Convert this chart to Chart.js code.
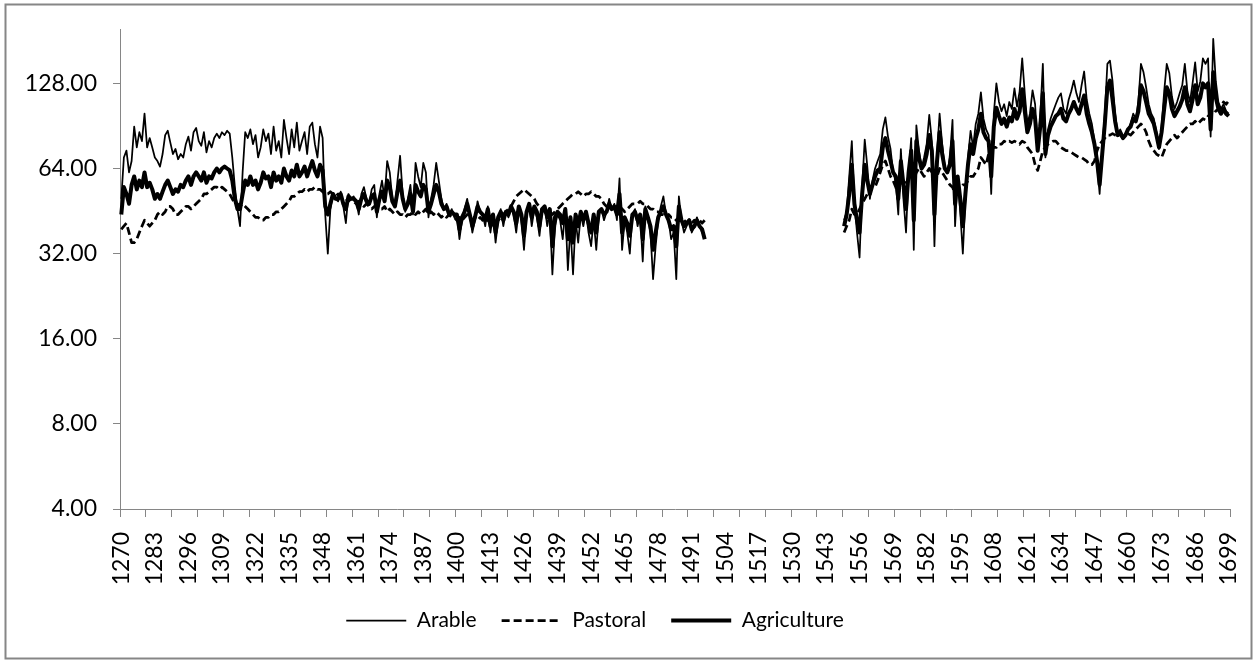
<!DOCTYPE html>
<html>
<head>
<meta charset="utf-8">
<script src="https://cdn.jsdelivr.net/npm/chart.js@4/dist/chart.umd.min.js"></script>
<style>
  html, body { margin: 0; padding: 0; background: #fff; }
  #wrap { position: relative; width: 1257px; height: 660px; }
</style>
</head>
<body>
<div id="wrap"><canvas id="chart"></canvas></div>
<script>
// years 1270..1699, data missing 1497..1549
const firstYear = 1270
const lastYear = 1699
const gapLength = 53

const yTicks = [4, 8, 16, 32, 64, 128]

// 1270-1496
const arableEarly = [
  50, 70, 74, 62, 68, 90, 76, 86, 80, 100,
  76, 82, 76, 70, 68, 65, 72, 84, 87, 79,
  72, 75, 69, 72, 70, 78, 83, 74, 86, 89,
  80, 77, 86, 73, 80, 76, 82, 85, 82, 86,
  84, 87, 85, 70, 55, 46, 40, 62, 86, 82,
  88, 78, 84, 70, 76, 88, 80, 85, 72, 90,
  74, 80, 70, 95, 82, 72, 88, 76, 93, 74,
  80, 86, 72, 90, 93, 78, 70, 90, 82, 44,
  32, 46, 52, 50, 49, 53, 47, 41, 52, 50,
  51, 49, 44, 52, 55, 50, 48, 54, 56, 43,
  52, 58, 50, 68, 62, 50, 47, 58, 71, 52,
  45, 50, 56, 44, 67, 60, 55, 67, 62, 43,
  50, 56, 67, 58, 50, 46, 48, 44, 46, 43,
  44, 36, 42, 46, 50, 44, 38, 42, 49, 45,
  44, 40, 47, 38, 44, 35, 42, 46, 40, 45,
  43, 47, 44, 38, 46, 42, 33, 44, 48, 40,
  46, 43, 37, 45, 47, 40, 45, 27, 40, 44,
  42, 36, 46, 28, 40, 27, 42, 35, 44, 40,
  45, 38, 34, 42, 33, 44, 46, 42, 45, 50,
  46, 48, 42, 59, 33, 42, 38, 32, 44, 46,
  40, 44, 30, 47, 42, 38, 26, 34, 42, 47,
  51, 44, 42, 36, 38, 26, 51, 42, 38, 40,
  42, 38, 40, 43, 40, 38, 37
]
const pastoralEarly = [
  39, 40, 41, 38, 35, 35, 36, 38, 40, 42,
  41, 40, 41, 42, 44, 45, 44, 45, 47, 47,
  46, 44, 44, 45, 46, 47, 47, 46, 47, 48,
  49, 50, 52, 52, 53, 54, 55, 55, 54, 55,
  54, 53, 52, 50, 48, 48, 47, 48, 47, 46,
  45, 44, 43, 43, 42, 42, 43, 43, 44, 44,
  45, 45, 46, 47, 48, 49, 51, 51, 52, 53,
  53, 54, 53, 54, 54, 55, 54, 54, 53, 52,
  52, 53, 52, 51, 52, 51, 50, 50, 49, 50,
  49, 48, 49, 48, 47, 48, 47, 46, 47, 47,
  46, 46, 47, 45, 46, 45, 44, 45, 44, 44,
  43, 44, 44, 45, 44, 45, 44, 45, 46, 44,
  45, 44, 45, 44, 43, 44, 43, 44, 43, 43,
  42, 43, 42, 43, 44, 43, 42, 43, 42, 43,
  42, 43, 42, 41, 42, 41, 42, 43, 44, 45,
  46, 47, 49, 51, 52, 53, 54, 53, 52, 51,
  50, 48, 47, 46, 45, 44, 45, 44, 45, 46,
  47, 48, 49, 50, 51, 52, 52, 53, 52, 51,
  52, 52, 53, 52, 51, 51, 50, 48, 47, 46,
  46, 47, 46, 47, 46, 45, 46, 47, 48, 48,
  48, 49, 48, 48, 47, 46, 46, 45, 45, 44,
  44, 43, 44, 43, 43, 42, 43, 42, 42, 41,
  42, 41, 42, 41, 42, 41, 42
]
const agricultureEarly = [
  44, 55, 52, 48, 56, 60, 54, 58, 55, 62,
  55, 57, 54, 50, 52, 50, 53, 56, 58, 55,
  52, 54, 53, 56, 55, 58, 60, 56, 60, 62,
  60, 58, 62, 57, 60, 59, 62, 64, 62, 64,
  65, 64, 63, 58, 50, 46, 46, 52, 58, 56,
  60, 56, 58, 54, 57, 62, 59, 60, 55, 62,
  58, 60, 57, 64, 60, 58, 63, 60, 66, 60,
  62, 65, 60, 64, 68, 63, 60, 66, 63, 47,
  44, 48, 52, 50, 50, 52, 48, 46, 51, 50,
  50, 49, 46, 50, 52, 49, 48, 51, 52, 45,
  50, 53, 49, 58, 55, 49, 47, 53, 58, 50,
  46, 48, 52, 45, 56, 53, 51, 56, 54, 45,
  48, 52, 56, 53, 48, 46, 47, 44, 45, 44,
  44, 39, 43, 45, 48, 44, 40, 43, 47, 45,
  44, 42, 46, 40, 44, 38, 43, 45, 42, 45,
  44, 47, 45, 41, 47, 44, 37, 45, 48, 43,
  47, 45, 40, 46, 47, 43, 46, 34, 43, 45,
  44, 41, 46, 36, 43, 35, 44, 40, 45, 42,
  45, 41, 38, 44, 38, 45, 46, 44, 45, 48,
  46, 47, 44, 52, 38, 43, 41, 37, 44, 45,
  42, 44, 36, 46, 43, 40, 33, 38, 43, 45,
  47, 44, 42, 39, 40, 34, 47, 42, 40, 41,
  42, 39, 40, 42, 40, 39, 36
]

// 1550-1699
const arableLate = [
  42, 45, 60, 80, 48, 38, 31, 55, 81, 65,
  50, 58, 64, 68, 72, 88, 97, 83, 75, 62,
  58, 44, 75, 50, 38, 62, 82, 33, 91, 74,
  64, 70, 78, 99, 80, 34, 72, 100, 78, 65,
  62, 70, 95, 40, 60, 45, 32, 50, 70, 87,
  76, 92, 100, 119, 96, 88, 84, 52, 100, 128,
  110, 102, 108, 98, 110, 104, 123, 106, 120, 157,
  118, 92, 100, 121, 108, 76, 98, 150, 70, 88,
  96, 102, 108, 114, 118, 104, 100, 112, 120, 131,
  118, 110, 126, 141, 112, 100, 92, 80, 66, 52,
  75, 100, 150, 154, 130, 100, 85, 88, 82, 84,
  88, 92, 100, 96, 110, 150, 140, 124, 108, 100,
  96, 86, 75, 90, 120, 150, 139, 115, 104, 110,
  118, 126, 150, 120, 110, 128, 152, 120, 130, 157,
  150, 157, 83, 184, 130, 110, 104, 108, 102, 100
]
const pastoralLate = [
  38, 40, 42, 46, 44, 44, 46, 48, 50, 52,
  54, 56, 55, 58, 62, 66, 68, 64, 60, 58,
  55, 52, 56, 58, 56, 60, 62, 58, 62, 64,
  62, 60, 62, 64, 62, 58, 60, 64, 62, 60,
  58, 56, 55, 52, 54, 55, 56, 56, 58, 60,
  60, 62, 64, 70, 68, 66, 72, 74, 76, 76,
  78, 78, 80, 79, 80, 79, 80, 79, 78, 80,
  79, 76, 74, 72, 66, 63, 68, 74, 76, 78,
  79, 80, 80, 78, 76, 75, 74, 74, 73, 72,
  71, 70, 70, 69, 68, 66, 66, 68, 74, 78,
  80, 82, 84, 84, 85, 84, 83, 84, 82, 84,
  85, 84, 86, 88, 90, 92, 90, 86, 80, 76,
  74, 72, 71, 70, 74, 78, 80, 82, 84, 82,
  84, 86, 88, 90, 92, 92, 94, 92, 94, 96,
  95, 98, 100, 104, 102, 104, 106, 110, 108, 111
]
const agricultureLate = [
  40, 44, 52, 66, 48, 42, 38, 52, 66, 58,
  52, 56, 60, 63, 64, 76, 82, 74, 68, 62,
  60, 50, 68, 56, 46, 62, 74, 42, 80, 70,
  64, 66, 72, 84, 74, 44, 68, 86, 72, 64,
  62, 66, 80, 48, 60, 50, 40, 52, 66, 78,
  72, 82, 88, 100, 86, 82, 80, 60, 90, 105,
  98, 92, 96, 90, 97, 94, 104, 96, 102, 122,
  102, 86, 92, 104, 96, 74, 90, 118, 72, 84,
  90, 94, 98, 100, 104, 96, 94, 100, 104, 110,
  104, 100, 108, 116, 100, 92, 86, 78, 68, 56,
  72, 92, 124, 131, 112, 94, 84, 86, 82, 84,
  88, 90, 96, 94, 102, 126, 120, 110, 100, 96,
  92, 84, 76, 86, 104, 124, 118, 104, 98, 102,
  106, 112, 124, 108, 102, 112, 126, 108, 114, 128,
  124, 128, 88, 140, 114, 104, 100, 104, 100, 98
]

const years = []
for (let y = firstYear; y <= lastYear; y++) years.push(String(y))

const gap = new Array(gapLength).fill(null)
const joinSeries = (early, late) => [...early, ...gap, ...late]

const axisGray = '#868686'
const fontFamily = 'Lato, "Open Sans", sans-serif'

// outer grey frame of the chart
const framePlugin = {
  id: 'frame',
  beforeDraw(chart) {
    const ctx = chart.ctx
    ctx.save()
    ctx.strokeStyle = axisGray
    ctx.lineWidth = 2
    ctx.strokeRect(5.5, 4.5, 1246, 654)
    ctx.restore()
  }
}

// shift legend a little left like the original
const legendShift = {
  id: 'legendShift',
  afterLayout(chart) {
    chart.legend.left -= 20
    chart.legend.right -= 20
  }
}

new Chart(document.getElementById('chart'), {
  type: 'line',
  data: {
    labels: years,
    datasets: [
      {
        label: 'Arable',
        data: joinSeries(arableEarly, arableLate),
        borderColor: '#000',
        backgroundColor: '#000',
        borderWidth: 1.75,
      },
      {
        label: 'Pastoral',
        data: joinSeries(pastoralEarly, pastoralLate),
        borderColor: '#000',
        backgroundColor: '#000',
        borderWidth: 2.75,
        borderDash: [8, 4],
      },
      {
        label: 'Agriculture',
        data: joinSeries(agricultureEarly, agricultureLate),
        borderColor: '#000',
        backgroundColor: '#000',
        borderWidth: 4,
      },
    ],
  },
  options: {
    responsive: true,
    maintainAspectRatio: false,
    animation: false,
    layout: {
      padding: { left: 0, right: 27, top: 29, bottom: 19 },
    },
    elements: {
      point: { radius: 0, hoverRadius: 0 },
      line: { tension: 0, borderJoinStyle: 'round', fill: false },
    },
    scales: {
      x: {
        type: 'category',
        offset: true,
        grid: {
          offset: true,
          drawOnChartArea: false,
          drawTicks: true,
          tickLength: 8,
          color: (c) => (c.index === undefined || c.index % 10 === 0) ? axisGray : 'rgba(0,0,0,0)',
        },
        border: { display: true, color: axisGray, width: 1 },
        ticks: {
          autoSkip: false,
          maxRotation: 90,
          minRotation: 90,
          padding: 15,
          color: '#000',
          font: { family: fontFamily, size: 23 },
          callback: (val, i) => (i % 13 === 0 ? years[i] : ''),
        },
        afterFit: (scale) => {
          scale.height = 76
          scale.paddingLeft = 0
          scale.paddingRight = 0
        },
      },
      y: {
        type: 'logarithmic',
        min: 4,
        max: 198,
        grid: {
          drawOnChartArea: false,
          drawTicks: true,
          tickLength: 7,
          color: axisGray,
        },
        border: { display: true, color: axisGray, width: 1 },
        ticks: {
          padding: 16,
          color: '#000',
          font: { family: fontFamily, size: 23 },
          callback: (v) => Number(v).toFixed(2),
        },
        afterBuildTicks: (scale) => {
          scale.ticks = yTicks.map((v) => ({ value: v }))
        },
        afterFit: (scale) => { scale.width = 120 },
      },
    },
    plugins: {
      legend: {
        display: true,
        position: 'bottom',
        labels: {
          usePointStyle: true,
          pointStyle: 'line',
          pointStyleWidth: 60,
          boxWidth: 60,
          padding: 25,
          color: '#000',
          font: { family: fontFamily, size: 21 },
          generateLabels: (chart) => {
            const items = Chart.defaults.plugins.legend.labels.generateLabels(chart)
            items.forEach((item) => {
              const ds = chart.data.datasets[item.datasetIndex]
              item.lineDash = ds.borderDash || []
              item.lineWidth = ds.borderWidth
            })
            return items
          },
        },
      },
      tooltip: { enabled: false },
    },
  },
  plugins: [framePlugin, legendShift],
})
</script>
</body>
</html>
